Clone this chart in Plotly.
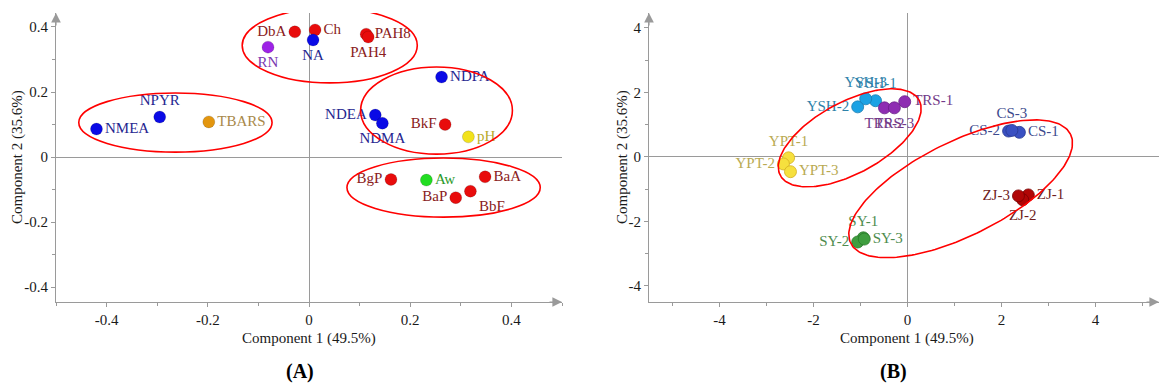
import numpy as np
import plotly.graph_objects as go

# ---------------- Data: panel A (loadings) ----------------
a_names = ["NMEA", "NPYR", "TBARS", "RN", "DbA", "Ch", "NA", "PAH8", "PAH4", "NDPA",
           "NDEA", "NDMA", "BkF", "pH", "BgP", "Aw", "BaA", "BaP", "BbF"]
a_pc1 = [-0.420, -0.295, -0.198, -0.081, -0.028, 0.012, 0.008, 0.113, 0.117, 0.262,
         0.131, 0.145, 0.269, 0.315, 0.162, 0.232, 0.348, 0.290, 0.319]
a_pc2 = [0.086, 0.123, 0.108, 0.338, 0.385, 0.391, 0.360, 0.378, 0.369, 0.246,
         0.129, 0.104, 0.100, 0.062, -0.069, -0.071, -0.061, -0.125, -0.105]
a_group = ["N", "N", "T", "R", "P", "P", "N", "P", "P", "N",
           "N", "N", "P", "H", "P", "W", "P", "P", "P"]

# ---------------- Data: panel B (scores) ----------------
b_names = ["YSH-1", "YSH-2", "YSH-3", "TRS-1", "TRS-2", "TRS-3",
           "YPT-1", "YPT-2", "YPT-3", "CS-1", "CS-2", "CS-3",
           "ZJ-1", "ZJ-2", "ZJ-3", "SY-1", "SY-2", "SY-3"]
b_pc1 = [-0.68, -1.06, -0.89, -0.06, -0.49, -0.28,
         -2.53, -2.64, -2.49, 2.38, 2.15, 2.22,
         2.57, 2.45, 2.36, -0.94, -1.06, -0.92]
b_pc2 = [1.74, 1.55, 1.80, 1.71, 1.52, 1.52,
         -0.03, -0.22, -0.46, 0.76, 0.80, 0.82,
         -1.18, -1.33, -1.21, -2.51, -2.64, -2.55]

# tick labels
a_ticks = [-0.4, -0.2, 0, 0.2, 0.4]
a_ticktext = ["-0.4", "-0.2", "0", "0.2", "0.4"]
a_minor = [-0.5, -0.3, -0.1, 0.1, 0.3, 0.5]
b_ticks = [-4, -2, 0, 2, 4]
b_ticktext = ["-4", "-2", "0", "2", "4"]
b_minor = [-5, -3, -1, 1, 3, 5]

# ---------------- Styles ----------------
a_marker_col = {"N": "#0a0ae6", "P": "#e80c0c", "T": "#e3960f", "R": "#9d22e6",
                "H": "#f2e21c", "W": "#22dd22"}
a_text_col = {"N": "#262690", "P": "#8a2020", "T": "#a8894a", "R": "#7a38b0",
              "H": "#b8aa2a", "W": "#2c9a2c"}
a_pos = ["middle right", "top center", "middle right", "bottom center", "middle left",
         "middle right", "bottom center", "middle right", "bottom center", "middle right",
         "middle left", "bottom center", "middle left", "middle right", "middle left",
         "middle right", "middle right", "middle left", "bottom right"]

b_marker_col = {"YSH": "#1ca2e4", "TRS": "#8e2db2", "YPT": "#f6e03e", "CS": "#3a50c2",
                "ZJ": "#b00606", "SY": "#3f9e3f"}
b_line_col = {"YSH": "#1a7cb0", "TRS": "#6a1f88", "YPT": "#d4b020", "CS": "#2a3a90",
              "ZJ": "#7a0000", "SY": "#2a7a2a"}
b_text_col = {"YSH": "#2e82aa", "TRS": "#733a88", "YPT": "#b9aa52", "CS": "#3d4a8e",
              "ZJ": "#6e1c1c", "SY": "#4e8c4e"}
b_pos = ["top center", "middle left", "top center", "middle right", "bottom center",
         "bottom center", "top center", "middle left", "middle right", "middle right",
         "middle left", "top center", "middle right", "bottom center", "middle left",
         "top center", "middle left", "middle right"]

FONT = "Liberation Serif, Times New Roman, serif"
AXC = "#9a9a9a"
W, H = 1159, 389

# layout geometry (pixels)
A_X0, A_X1 = 56, 562
B_X0, B_X1 = 649, 1159
Y_TOP, Y_BOT = 13, 302
a_xr = [-0.5, 0.5]
a_yr = [-0.446, 0.443]
b_xr = [-5.5, 5.35]
b_yr = [-4.5, 4.46]

fig = go.Figure()

fig.add_trace(go.Scatter(
    x=a_pc1, y=a_pc2, mode="markers+text", text=a_names, textposition=a_pos,
    marker=dict(size=12, color=[a_marker_col[g] for g in a_group],
                line=dict(width=0.6, color="rgba(0,0,0,0.25)")),
    textfont=dict(family=FONT, size=15, color=[a_text_col[g] for g in a_group]),
    xaxis="x", yaxis="y", hoverinfo="skip", cliponaxis=False, showlegend=False))

b_group = [n.split("-")[0] for n in b_names]
fig.add_trace(go.Scatter(
    x=b_pc1, y=b_pc2, mode="markers+text", text=b_names, textposition=b_pos,
    marker=dict(size=12, color=[b_marker_col[g] for g in b_group],
                line=dict(width=0.8, color=[b_line_col[g] for g in b_group])),
    textfont=dict(family=FONT, size=15, color=[b_text_col[g] for g in b_group]),
    xaxis="x2", yaxis="y2", hoverinfo="skip", cliponaxis=False, showlegend=False))

# ellipses panel A (axis aligned): cx, cy, rx, ry
a_ell = [(0.041, 0.343, 0.173, 0.115), (-0.264, 0.106, 0.191, 0.091),
         (0.252, 0.143, 0.150, 0.134), (0.266, -0.094, 0.191, 0.091)]
shapes = []
for cx, cy, rx, ry in a_ell:
    shapes.append(dict(type="circle", xref="x", yref="y", x0=cx - rx, x1=cx + rx,
                       y0=cy - ry, y1=cy + ry, line=dict(color="#ff0000", width=1.6)))

# ellipses panel B (tilted): cx, cy, a, b (x-units), angle deg
b_ell = [(-1.23, 0.59, 1.68, 0.76, 28.5), (1.13, -0.99, 2.61, 1.00, 26.4)]
kx = (B_X1 - B_X0) / (b_xr[1] - b_xr[0])
ky = (Y_BOT - Y_TOP) / (b_yr[1] - b_yr[0])
t = np.linspace(0, 2 * np.pi, 200)
for cx, cy, aa, bb, ang in b_ell:
    th = np.deg2rad(ang)
    ex = cx + aa * np.cos(th) * np.cos(t) - bb * np.sin(th) * np.sin(t)
    ey = cy + (aa * np.sin(th) * np.cos(t) + bb * np.cos(th) * np.sin(t)) * kx / ky
    fig.add_trace(go.Scatter(x=ex, y=ey, mode="lines", line=dict(color="#ff0000", width=1.6),
                             xaxis="x2", yaxis="y2", hoverinfo="skip", showlegend=False))

def axis(domain, rng, tv, tt, minor, anchor):
    return dict(domain=domain, range=rng, anchor=anchor, tickmode="array", tickvals=tv,
                ticktext=tt, showline=True, linecolor=AXC, linewidth=1, ticks="outside",
                ticklen=4, tickcolor=AXC, showgrid=False, zeroline=True,
                zerolinecolor=AXC, zerolinewidth=1,
                tickfont=dict(family=FONT, size=15, color="#1a1a1a"),
                minor=dict(tickvals=minor, ticks="outside", ticklen=3, tickcolor=AXC))

ydom = [(H - Y_BOT) / H, (H - Y_TOP) / H]
fig.update_layout(
    width=W, height=H, margin=dict(l=0, r=0, t=0, b=0),
    paper_bgcolor="white", plot_bgcolor="white", shapes=shapes,
    xaxis=axis([A_X0 / W, A_X1 / W], a_xr, a_ticks, a_ticktext, a_minor, "y"),
    yaxis=axis(ydom, a_yr, a_ticks, a_ticktext, a_minor, "x"),
    xaxis2=axis([B_X0 / W, 1.0], b_xr, b_ticks, b_ticktext, b_minor, "y2"),
    yaxis2=axis(ydom, b_yr, b_ticks, b_ticktext, b_minor, "x2"),
)

ann = []
def px_x(p):
    return p / W
def px_y(p):
    return (H - p) / H

def txt(xp, yp, s, size=15, angle=0, color="#1a1a1a"):
    return dict(x=px_x(xp), y=px_y(yp), xref="paper", yref="paper", text=s,
                xanchor="center", yanchor="middle", textangle=angle, showarrow=False,
                font=dict(family=FONT, size=size, color=color))

ann.append(txt(309, 338, "Component 1 (49.5%)"))
ann.append(txt(907, 338, "Component 1 (49.5%)"))
ann.append(txt(17, 157, "Component 2 (35.6%)", angle=-90))
ann.append(txt(622, 157, "Component 2 (35.6%)", angle=-90))
ann.append(txt(300, 371, "<b>(A)</b>", size=20, color="black"))
ann.append(txt(893, 371, "<b>(B)</b>", size=20, color="black"))

# axis arrows
for xr_, yr_, xa, ya in [(a_xr, a_yr, "x", "y"), (b_xr, b_yr, "x2", "y2")]:
    ann.append(dict(x=xr_[1], y=yr_[0], xref=xa, yref=ya, ax=-14, ay=0, text="",
                    showarrow=True, arrowhead=2, arrowsize=1.6, arrowwidth=1.2,
                    arrowcolor=AXC))
    ann.append(dict(x=xr_[0], y=yr_[1], xref=xa, yref=ya, ax=0, ay=14, text="",
                    showarrow=True, arrowhead=2, arrowsize=1.6, arrowwidth=1.2,
                    arrowcolor=AXC))
fig.update_layout(annotations=ann)

fig.write_html("out.html", config={"displayModeBar": False},
               post_script="document.body.style.margin='0px';")
